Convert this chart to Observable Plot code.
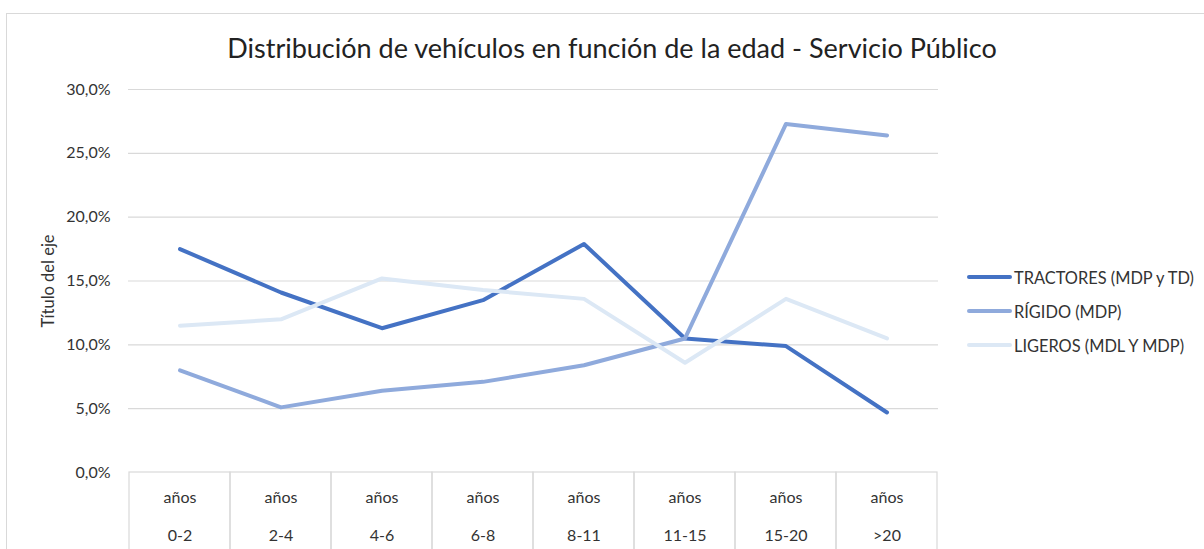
<!DOCTYPE html>
<html>
<head>
<meta charset="utf-8">
<script src="https://cdn.jsdelivr.net/npm/d3@7"></script>
<script src="https://cdn.jsdelivr.net/npm/@observablehq/plot@0.6"></script>
<style>
  html, body { margin: 0; padding: 0; background: #fff; overflow: hidden; }
  body { width: 1204px; height: 549px; position: relative; font-family: Lato, "Open Sans", sans-serif; }
  #frame { position: absolute; left: 6px; top: 13px; width: 1300px; height: 700px; border: 1.5px solid #d9d9d9; box-sizing: border-box; }
  #chart { position: absolute; left: 0; top: 0; }
  #title { position: absolute; left: 0; width: 1224px; top: 31px; line-height: 34px; text-align: center; font-size: 27px; color: #222; }
  #ylabel { position: absolute; left: 48px; top: 281px; transform: translate(-50%, -50%) rotate(-90deg); font-size: 16.5px; color: #333; white-space: nowrap; }
  #legend { position: absolute; left: 967px; top: 260px; font-size: 16.4px; color: #333; }
  .item { display: flex; align-items: center; height: 34px; }
  .sw { width: 45px; height: 4px; border-radius: 2px; margin-right: 2px; }
</style>
</head>
<body>
<div id="frame"></div>
<div id="chart"></div>
<div id="title">Distribución de vehículos en función de la edad - Servicio Público</div>
<div id="ylabel">Título del eje</div>
<div id="legend"></div>
<script>
const categories = ["0-2", "2-4", "4-6", "6-8", "8-11", "11-15", "15-20", ">20"];
const seriesNames = ["TRACTORES (MDP y TD)", "RÍGIDO (MDP)", "LIGEROS (MDL Y MDP)"];
const seriesColors = ["#4472C4", "#8FAADC", "#DCE8F5"];
const tractores = [17.5, 14.1, 11.3, 13.5, 17.9, 10.5, 9.9, 4.7];
const rigido = [8.0, 5.1, 6.4, 7.1, 8.4, 10.5, 27.3, 26.4];
const ligeros = [11.5, 12.0, 15.2, 14.3, 13.6, 8.6, 13.6, 10.5];
const yTicks = [0, 5, 10, 15, 20, 25, 30];
const gridTicks = [5, 10, 15, 20, 25, 30];
const tableDepth = 6.1;

const seriesValues = [tractores, rigido, ligeros];
const rows = [];
seriesNames.forEach((s, i) => categories.forEach((c, j) => rows.push({series: s, cat: c, value: seriesValues[i][j]})));

const fmt = d => d.toFixed(1).replace(".", ",") + "%";

const chart = Plot.plot({
  width: 1204,
  height: 549,
  marginLeft: 128,
  marginRight: 266,
  marginTop: 89,
  marginBottom: 77,
  style: {fontFamily: "Lato, 'Open Sans', sans-serif", background: "transparent"},
  x: {type: "band", domain: categories, padding: 0, axis: null},
  y: {domain: [0, 30], axis: null},
  color: {domain: seriesNames, range: seriesColors},
  marks: [
    Plot.gridY(gridTicks, {stroke: "#d9d9d9", strokeOpacity: 1, strokeWidth: 1.2}),
    Plot.barY(categories, {x: d => d, y1: 0, y2: -tableDepth, fill: "none", stroke: "#d9d9d9", strokeWidth: 1.2}),
    Plot.text(categories, {x: d => d, text: d => "años\n" + d, frameAnchor: "bottom", lineAnchor: "middle", dy: 37, lineHeight: 2.375, fontSize: 16, fill: "#333"}),
    Plot.axisY({ticks: yTicks, tickFormat: fmt, tickSize: 0, tickPadding: 18, fontSize: 16, label: null, color: "#333"}),
    Plot.line(rows, {x: "cat", y: "value", z: "series", stroke: "series", strokeWidth: 4, strokeLinecap: "round", strokeLinejoin: "round"})
  ]
});
document.getElementById("chart").appendChild(chart);

const legend = document.getElementById("legend");
seriesNames.forEach((s, i) => {
  const item = document.createElement("div");
  item.className = "item";
  const sw = document.createElement("div");
  sw.className = "sw";
  sw.style.background = seriesColors[i];
  const t = document.createElement("span");
  t.textContent = s;
  item.appendChild(sw);
  item.appendChild(t);
  legend.appendChild(item);
});
</script>
</body>
</html>
